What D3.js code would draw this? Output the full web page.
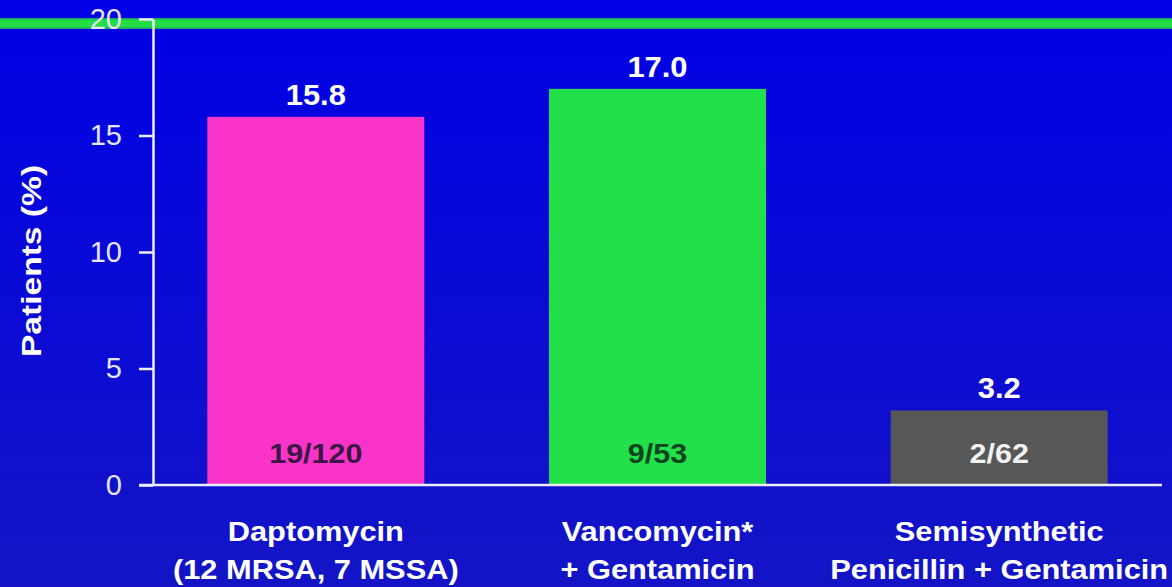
<!DOCTYPE html>
<html>
<head>
<meta charset="utf-8">
<script src="https://cdn.jsdelivr.net/npm/d3@7"></script>
<style>
  html, body { margin: 0; padding: 0; background: #0000e0; }
  svg { display: block; }
  text { font-family: "Liberation Sans", Arial, sans-serif; }
</style>
</head>
<body>
<svg id="chart" width="1172" height="587"></svg>
<script>
// Treatment groups and outcome rates (% of patients)
const categories = ["Daptomycin", "Vancomycin", "Semisynthetic"];
const labelLines = [
  ["Daptomycin", "(12 MRSA, 7 MSSA)"],
  ["Vancomycin*", "+ Gentamicin"],
  ["Semisynthetic", "Penicillin + Gentamicin"]
];
const values = [15.8, 17.0, 3.2];
const valueLabels = ["15.8", "17.0", "3.2"];
const counts = ["19/120", "9/53", "2/62"];
const yTicks = [0, 5, 10, 15, 20];

const barColors = ["#fa34c8", "#22e04a", "#575757"];
const countColors = ["#3c1644", "#0c4520", "#f2f2f2"];

const W = 1172, H = 587;
const svg = d3.select("#chart");

// Background: deep blue, slightly lighter toward the bottom
const defs = svg.append("defs");
const grad = defs.append("linearGradient")
  .attr("id", "bg").attr("x1", 0).attr("y1", 0).attr("x2", 0).attr("y2", 1);
grad.append("stop").attr("offset", "0%").attr("stop-color", "#0000e6");
grad.append("stop").attr("offset", "100%").attr("stop-color", "#1414c6");
svg.append("rect").attr("width", W).attr("height", H).attr("fill", "url(#bg)");

// Scales
const y = d3.scaleLinear().domain([0, 20]).range([485, 19]);
const x = d3.scaleBand().domain(categories)
  .range([153, 1162]).paddingInner(0.365).paddingOuter(0.159);

// Green rule across the top, with a soft darker edge
svg.append("rect")
  .attr("x", 0).attr("width", W)
  .attr("y", 18).attr("height", 11)
  .attr("fill", "#1aa46a");
svg.append("rect")
  .attr("x", 0).attr("width", W)
  .attr("y", 19.5).attr("height", 8)
  .attr("fill", "#22dd44");

// Bars
svg.append("g").selectAll("rect")
  .data(values)
  .join("rect")
  .attr("x", (d, i) => x(categories[i]))
  .attr("width", x.bandwidth())
  .attr("y", d => y(d))
  .attr("height", d => y(0) - y(d))
  .attr("fill", (d, i) => barColors[i]);

// Y axis
const axisColor = "#eeeefa";
const yAxis = svg.append("g")
  .attr("transform", "translate(153,0)")
  .call(d3.axisLeft(y).tickValues(yTicks).tickSize(14).tickSizeOuter(0).tickPadding(17));
yAxis.select(".domain").attr("stroke", axisColor).attr("stroke-width", 2.5);
yAxis.selectAll(".tick line").attr("stroke", axisColor).attr("stroke-width", 2.5);
yAxis.selectAll(".tick text")
  .attr("fill", "#e4e4f4")
  .attr("font-size", 29)
  .attr("font-family", "Liberation Sans, Arial, sans-serif");

// Baseline across the chart
svg.append("line")
  .attr("x1", 139).attr("x2", 1162)
  .attr("y1", y(0)).attr("y2", y(0))
  .attr("stroke", axisColor).attr("stroke-width", 2.5);

// Horizontally widened bold text helper
function wideText(g, tx, ty, str, size, fill, sx) {
  return g.append("text")
    .attr("transform", `translate(${tx},${ty}) scale(${sx},1)`)
    .attr("text-anchor", "middle")
    .attr("font-weight", "bold")
    .attr("font-size", size)
    .attr("fill", fill)
    .text(str);
}

const labels = svg.append("g");
values.forEach((v, i) => {
  const cx = x(categories[i]) + x.bandwidth() / 2;
  // value above the bar
  wideText(labels, cx, y(v) - 12, valueLabels[i], 30, "#ffffff", 1.03);
  // count inside the bar
  wideText(labels, cx, y(0) - 22, counts[i], 28, countColors[i], 1.09);
  // category label under the axis
  labelLines[i].forEach((line, j) => {
    wideText(labels, cx, 541 + j * 38, line, 28, "#ffffff", 1.1);
  });
});

// Y axis title
svg.append("text")
  .attr("transform", "translate(41,261) rotate(-90) scale(1.2,1)")
  .attr("text-anchor", "middle")
  .attr("font-weight", "bold")
  .attr("font-size", 28)
  .attr("fill", "#ffffff")
  .text("Patients (%)");
</script>
</body>
</html>
